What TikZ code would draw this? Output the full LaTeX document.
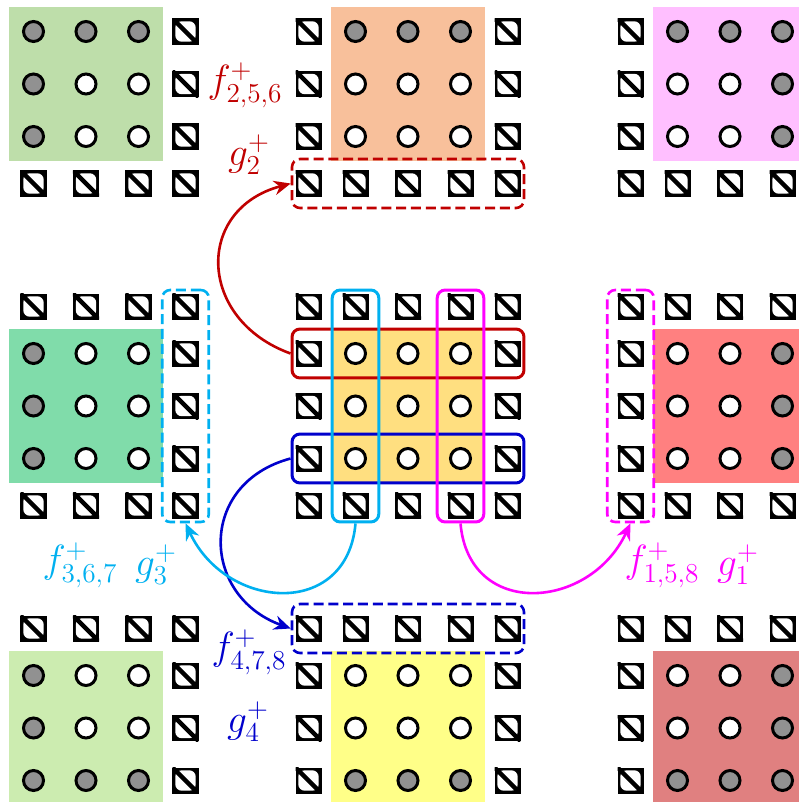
\documentclass[tikz,border=0pt]{standalone}
\usetikzlibrary{arrows.meta, positioning, fit}

\definecolor{selred}{RGB}{192,0,0}
\definecolor{selblue}{RGB}{0,0,204}
\definecolor{selcyan}{RGB}{0,176,240}
\definecolor{selmag}{RGB}{255,0,255}
\definecolor{qgray}{RGB}{145,145,145}
\definecolor{bgTL}{RGB}{190,222,170}
\definecolor{bgTC}{RGB}{248,192,155}
\definecolor{bgTR}{RGB}{255,191,255}
\definecolor{bgML}{RGB}{128,220,170}
\definecolor{bgC}{RGB}{255,223,128}
\definecolor{bgMR}{RGB}{255,128,128}
\definecolor{bgBL}{RGB}{204,236,176}
\definecolor{bgBC}{RGB}{255,255,136}
\definecolor{bgBR}{RGB}{224,128,128}

\tikzset{
  qcirc/.style = {circle, draw, line width=0.075cm, minimum size=0.5cm,
                  inner sep=0pt},
  qsq/.style   = {rectangle, fill=black, minimum size=0.65cm, inner sep=0pt,
                  path picture={
                    \fill[white, rounded corners=0.16cm]
                      ([shift={(0.07cm,0.07cm)}]path picture bounding box.south west)
                      rectangle
                      ([shift={(-0.07cm,-0.07cm)}]path picture bounding box.north east);
                    \draw[black, line width=0.11cm]
                      (path picture bounding box.north west) --
                      (path picture bounding box.south east);}},
  bgtile/.style = {rectangle, minimum size=3.825cm, inner sep=0pt},
  hsel/.style  = {draw, rectangle, rounded corners=0.2cm, line width=0.075cm,
                  inner xsep=0.08cm, inner ysep=0.28cm},
  vsel/.style  = {draw, rectangle, rounded corners=0.2cm, line width=0.075cm,
                  inner xsep=0.25cm, inner ysep=0.08cm},
  dsel/.style  = {dash pattern=on 0.25cm off 0.12cm, line width=0.065cm},
  arr/.style   = {-{Stealth[length=0.42cm, width=0.36cm]}, line width=0.065cm},
  lbl/.style   = {font=\fontsize{20.74}{25}\selectfont, inner sep=0pt, scale=1.35}
}

\begin{document}
\begin{tikzpicture}[x=0.025cm, y=0.025cm]

  \useasboundingbox (0,0) rectangle (799,-802);
  \clip (0,0) rectangle (799,-802);

  % ── Coloured tiles ────────────────────────────────────────────────────────
  \foreach \tx/\ty/\X/\Y/\col in {1/1/86/84/bgTL, 2/1/408/84/bgTC, 3/1/730/84/bgTR,
                                  1/2/86/406/bgML, 2/2/408/406/bgC, 3/2/730/406/bgMR,
                                  1/3/86/728/bgBL, 2/3/408/728/bgBC, 3/3/730/728/bgBR}
    \node[bgtile, fill=\col] (bg-\tx-\ty) at (\X,-\Y) {};

  % ── Qubit lattice: circles inside, squares on the ring ────────────────────
  \foreach \tx/\X in {1/86,2/408,3/730}
  \foreach \ty/\Y in {1/84,2/406,3/728}
  \foreach \k/\ox in {0/-99.5,1/-52.5,2/0,3/52.5,4/99.5}
  \foreach \l/\oy in {0/-99.5,1/-52.5,2/0,3/52.5,4/99.5}{
    \pgfmathtruncatemacro\ring{(\k==0)||(\k==4)||(\l==0)||(\l==4)}
    \pgfmathtruncatemacro\edge{(3*\tx+\k==4)||(3*\tx+\k==12)||(3*\ty+\l==4)||(3*\ty+\l==12)}
    \ifnum\ring=1
      \node[qsq] (sq-\tx-\ty-\k-\l) at ({\X+\ox},{-(\Y+\oy)}) {};
    \else
      \ifnum\edge=1
        \node[qcirc, fill=qgray] (c-\tx-\ty-\k-\l) at ({\X+\ox},{-(\Y+\oy)}) {};
      \else
        \node[qcirc, fill=white] (c-\tx-\ty-\k-\l) at ({\X+\ox},{-(\Y+\oy)}) {};
      \fi
    \fi
  }

  % ── Selected rows / columns of the middle tile ────────────────────────────
  \node[hsel, selred,  fit=(sq-2-2-0-1) (sq-2-2-4-1)] (selR) {};
  \node[hsel, selblue, fit=(sq-2-2-0-3) (sq-2-2-4-3)] (selB) {};
  \node[vsel, selcyan, fit=(sq-2-2-1-0) (sq-2-2-1-4)] (selC) {};
  \node[vsel, selmag,  fit=(sq-2-2-3-0) (sq-2-2-3-4)] (selM) {};

  % ── Target boundaries (dashed) ────────────────────────────────────────────
  \node[hsel, dsel, selred,  fit=(sq-2-1-0-4) (sq-2-1-4-4)] (dashR) {};
  \node[hsel, dsel, selblue, fit=(sq-2-3-0-0) (sq-2-3-4-0)] (dashB) {};
  \node[vsel, dsel, selcyan, fit=(sq-1-2-4-0) (sq-1-2-4-4)] (dashC) {};
  \node[vsel, dsel, selmag,  fit=(sq-3-2-0-0) (sq-3-2-0-4)] (dashM) {};

  % ── Arrows ────────────────────────────────────────────────────────────────
  \draw[arr, selred]  (selR.west)  to[out=160, in=195, looseness=1.5] (dashR.west);
  \draw[arr, selblue] (selB.west)  to[out=195, in=160, looseness=1.45] (dashB.west);
  \draw[arr, selcyan] (selC.south) to[out=-95, in=-65, looseness=1.45] (dashC.south);
  \draw[arr, selmag]  (selM.south) to[out=-85, in=-115, looseness=1.45] (dashM.south);

  % ── Labels ────────────────────────────────────────────────────────────────
  \node[lbl, text=selred]  (f256) at (245,-85)  {$f^{+}_{2,5,6}$};
  \node[lbl, text=selred]  (g2)   at (249,-155) {$g^{+}_{2}$};
  \node[lbl, text=selcyan] (f367) at (80,-565)  {$f^{+}_{3,6,7}$};
  \node[lbl, text=selcyan] (g3)   at (156,-565) {$g^{+}_{3}$};
  \node[lbl, text=selblue] (f478) at (249,-652) {$f^{+}_{4,7,8}$};
  \node[lbl, text=selblue] (g4)   at (248,-722) {$g^{+}_{4}$};
  \node[lbl, text=selmag]  (f158) at (662,-565) {$f^{+}_{1,5,8}$};
  \node[lbl, text=selmag]  (g1)   at (738,-565) {$g^{+}_{1}$};

\end{tikzpicture}
\end{document}
